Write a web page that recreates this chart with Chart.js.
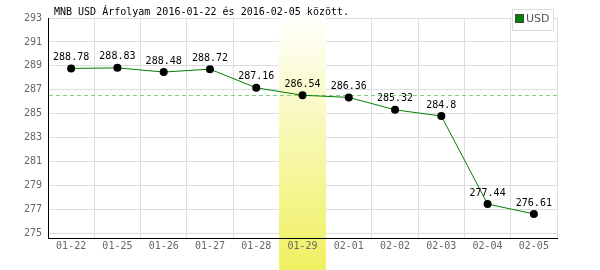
<!DOCTYPE html>
<html><head><meta charset="utf-8">
<script src="https://cdn.jsdelivr.net/npm/chart.js@4"></script>
<style>html,body{margin:0;padding:0;background:#fff}#wrap{width:600px;height:270px}</style>
</head><body><div id="wrap"><canvas id="c" width="600" height="270"></canvas></div>
<script>
const categories = ["01-22","01-25","01-26","01-27","01-28","01-29","02-01","02-02","02-03","02-04","02-05"];
const usdValues = [288.78,288.83,288.48,288.72,287.16,286.54,286.36,285.32,284.8,277.44,276.61];
const yTicks = [275,277,279,281,283,285,287,289,291,293];
const highlightIndex = 5;
const titleText = "MNB USD Árfolyam 2016-01-22 és 2016-02-05 között.";
const seriesName = "USD";
const refValue = usdValues[highlightIndex];

const MONO = "'DejaVu Sans Mono', monospace";

const bandPlugin = {
  id: 'band',
  beforeDatasetsDraw(chart) {
    const {ctx, chartArea, scales} = chart;
    const x = scales.x;
    const w = x.width / categories.length;
    const cx = x.getPixelForValue(highlightIndex);
    const left = Math.round(cx - w/2), right = Math.round(cx + w/2);
    const g = ctx.createLinearGradient(0, chartArea.top, 0, chart.height);
    g.addColorStop(0, '#fffffc');
    g.addColorStop(1, '#f0f060');
    ctx.save();
    ctx.fillStyle = g;
    ctx.fillRect(left, chartArea.top, right-left, chart.height - chartArea.top);
    // redraw axis line over band
    ctx.strokeStyle = '#000';
    ctx.lineWidth = 1;
    ctx.beginPath();
    ctx.moveTo(left, chartArea.bottom + 0.5);
    ctx.lineTo(right, chartArea.bottom + 0.5);
    ctx.stroke();
    // redraw the covered label exactly where the scale put it
    const items = x.getLabelItems(chartArea);
    const it = items[highlightIndex];
    if (it) {
      const o = it.options;
      ctx.font = it.font.string;
      ctx.fillStyle = '#666';
      ctx.textAlign = o.textAlign;
      ctx.textBaseline = o.textBaseline;
      ctx.fillText(String(it.label), o.translation[0], o.translation[1] + (it.textOffset || 0));
    }
    // reference dashed line
    const y = scales.y.getPixelForValue(refValue);
    ctx.strokeStyle = '#88cc88';
    ctx.setLineDash([4,3]);
    ctx.beginPath();
    ctx.moveTo(chartArea.left + 1, Math.round(y)+0.5);
    ctx.lineTo(chartArea.right, Math.round(y)+0.5);
    ctx.stroke();
    ctx.restore();
  },
  afterDatasetsDraw(chart) {
    const {ctx} = chart;
    const meta = chart.getDatasetMeta(0);
    ctx.save();
    ctx.font = "10px " + MONO;
    ctx.fillStyle = '#000';
    ctx.textAlign = 'center';
    ctx.textBaseline = 'bottom';
    meta.data.forEach((pt, i) => {
      ctx.fillText(String(usdValues[i]), pt.x, pt.y - 6);
    });
    // title
    ctx.textAlign = 'left';
    ctx.textBaseline = 'middle';
    ctx.fillText(titleText, 54, 12);
    // legend
    ctx.fillStyle = '#fff';
    ctx.fillRect(512, 9, 41, 21);
    ctx.strokeStyle = '#ddd';
    ctx.lineWidth = 1;
    ctx.strokeRect(512.5, 9.5, 41, 21);
    ctx.fillStyle = '#008000';
    ctx.fillRect(516, 15, 7, 7);
    ctx.strokeStyle = '#444';
    ctx.strokeRect(515.5, 14.5, 8, 8);
    ctx.fillStyle = '#555';
    ctx.font = "11px 'DejaVu Sans', sans-serif";
    ctx.fillText(seriesName, 526, 19);
    ctx.restore();
  }
};

new Chart(document.getElementById('c'), {
  type: 'line',
  data: {
    labels: categories,
    datasets: [{
      label: seriesName,
      data: usdValues,
      borderColor: '#008000',
      borderWidth: 1,
      pointBackgroundColor: '#000',
      pointBorderColor: '#000',
      pointRadius: 4,
      pointBorderWidth: 0,
      tension: 0
    }]
  },
  options: {
    responsive: false,
    animation: false,
    devicePixelRatio: 1,
    layout: {padding: {top: 18, right: 43, left: 0, bottom: 0}},
    plugins: {legend: {display: false}, title: {display: false}, tooltip: {enabled: false}},
    scales: {
      x: {
        offset: true,
        grid: {offset: true, color: '#ddd', drawTicks: false},
        border: {color: '#000', width: 1},
        ticks: {color: '#666', font: {family: MONO, size: 10}, padding: 2, maxRotation: 0, autoSkip: false},
        afterFit(s) { s.height = 32; }
      },
      y: {
        min: 274.6, max: 293,
        afterBuildTicks(s) { s.ticks = yTicks.map(v => ({value: v})); },
        grid: {color: '#ddd', drawTicks: false},
        border: {color: '#000', width: 1},
        ticks: {color: '#666', font: {family: MONO, size: 10}, padding: 6},
        afterFit(s) { s.width = 48; }
      }
    }
  },
  plugins: [bandPlugin]
});
</script></body></html>
